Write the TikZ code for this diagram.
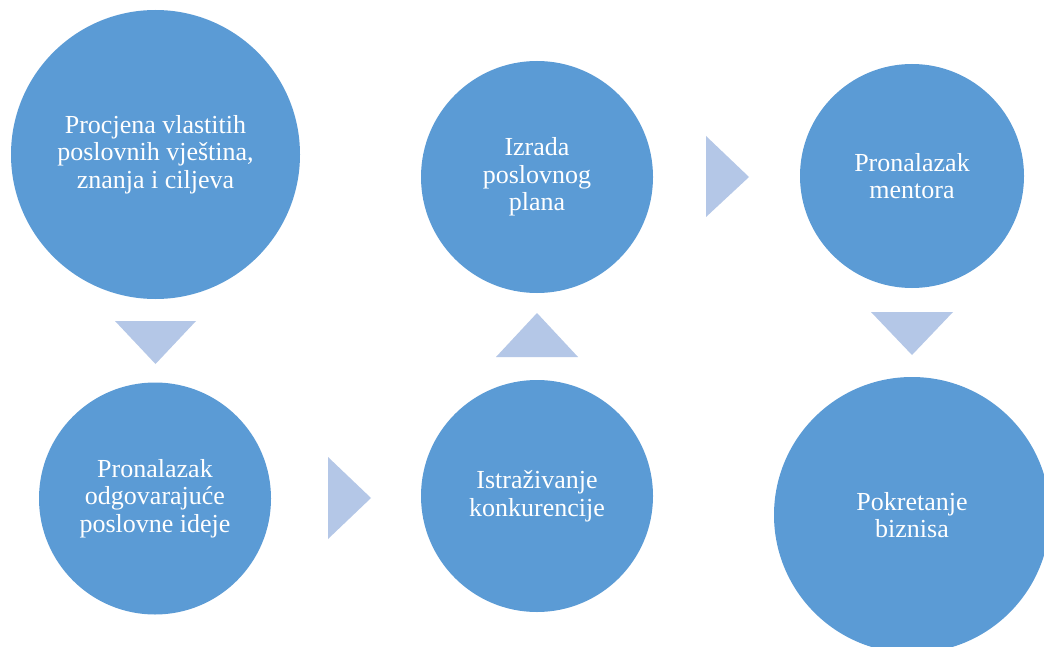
\documentclass[tikz,border=0pt]{standalone}
\usepackage{fontspec}
\setmainfont{Liberation Serif}
\definecolor{circblue}{HTML}{5B9BD5}
\definecolor{arrblue}{HTML}{B4C7E7}
\begin{document}
\begin{tikzpicture}[x=1pt,y=-1pt,
  stepcirc/.style={circle,fill=circblue,draw=none,inner sep=0pt,text=white,align=center,
    font=\fontsize{26}{27.5}\selectfont},
  tri/.style={fill=arrblue,draw=none}]
\useasboundingbox (0,0) rectangle (1044,647);
\clip (0,0) rectangle (1044,647);
\fill[white] (0,0) rectangle (1044,647);
\node[stepcirc,minimum size=289pt] (c1) at (155.5,154.5) {Procjena vlastitih\\poslovnih vještina,\\znanja i ciljeva};
\node[stepcirc,minimum size=232pt] (c2) at (155,498.5) {Pronalazak\\odgovarajuće\\poslovne ideje};
\node[stepcirc,minimum size=232pt] (c3) at (537,496) {Istraživanje\\konkurencije};
\node[stepcirc,minimum size=232pt] (c4) at (537,177) {Izrada\\poslovnog\\plana};
\node[stepcirc,minimum size=224pt] (c5) at (912,176) {Pronalazak\\mentora};
\node[stepcirc,minimum size=276pt] (c6) at (912,515) {Pokretanje\\biznisa};
% arrows
\fill[tri] (115,321) -- (196,321) -- (155.5,364) -- cycle;
\fill[tri] (328,457) -- (371,498) -- (328,539) -- cycle;
\fill[tri] (496,357) -- (578,357) -- (537,313) -- cycle;
\fill[tri] (706,136) -- (749,177) -- (706,217) -- cycle;
\fill[tri] (871,312) -- (953,312) -- (912,355) -- cycle;
\end{tikzpicture}
\end{document}
